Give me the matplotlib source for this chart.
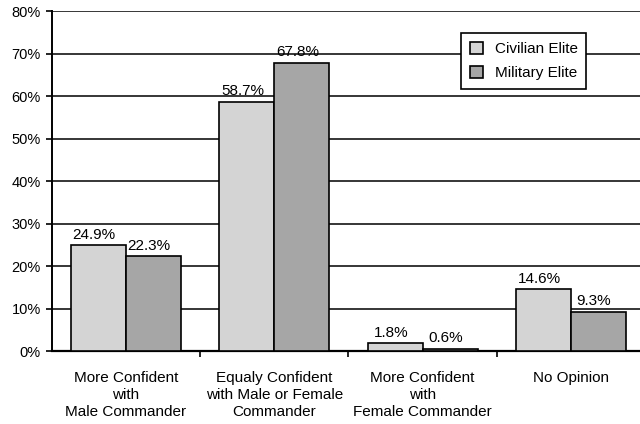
import matplotlib.pyplot as plt
import numpy as np

plt.rcParams['font.family'] = ['Liberation Sans', 'DejaVu Sans']

categories = ['More Confident\nwith\nMale Commander',
              'Equaly Confident\nwith Male or Female\nCommander',
              'More Confident\nwith\nFemale Commander',
              'No Opinion']
civilian = [24.9, 58.7, 1.8, 14.6]
military = [22.3, 67.8, 0.6, 9.3]

fig = plt.figure(figsize=(6.4, 4.24), dpi=100)
ax = fig.add_axes([0.081, 0.172, 0.927, 0.802])

x = np.arange(len(categories))
w = 0.37
b1 = ax.bar(x - w / 2, civilian, w, color='#d4d4d4', edgecolor='black', linewidth=1.2,
            label='Civilian Elite', zorder=3)
b2 = ax.bar(x + w / 2, military, w, color='#a6a6a6', edgecolor='black', linewidth=1.2,
            label='Military Elite', zorder=3)

for bars, vals in ((b1, civilian), (b2, military)):
    for r, v in zip(bars, vals):
        ax.text(r.get_x() + r.get_width() / 2 - 0.03, v + 0.8, f'{v:.1f}%',
                ha='center', va='bottom', fontsize=11)

ax.set_ylim(0, 80)
ax.set_yticks(range(0, 81, 10))
ax.set_yticklabels([f'{t}%' for t in range(0, 81, 10)], fontsize=10.5)
ax.yaxis.grid(True, color='black', linewidth=1.1, zorder=0)

ax.set_xlim(-0.5, 3.5)
ax.set_xticks(x + 0.5)
ax.set_xticklabels([])
ax.set_xticks(x, minor=True)
ax.set_xticklabels(categories, minor=True, fontsize=11, linespacing=1.3)
ax.tick_params(axis='x', which='minor', length=0, pad=14)
ax.tick_params(axis='x', which='major', length=4, width=1.2, direction='out')
ax.tick_params(axis='y', length=4, width=1.2, direction='out', pad=4)

for s in ('top', 'right'):
    ax.spines[s].set_visible(False)
ax.spines['left'].set_linewidth(1.4)
ax.spines['bottom'].set_linewidth(1.6)

leg = ax.legend(loc='upper left', bbox_to_anchor=(0.69, 0.935), fontsize=11,
                frameon=True, fancybox=False, edgecolor='black', framealpha=1,
                handlelength=0.85, handleheight=0.85, handletextpad=0.8,
                borderpad=0.55, labelspacing=0.65, borderaxespad=0)
leg.get_frame().set_linewidth(1.2)
leg.set_zorder(5)

fig.savefig('out.png', dpi=100)
